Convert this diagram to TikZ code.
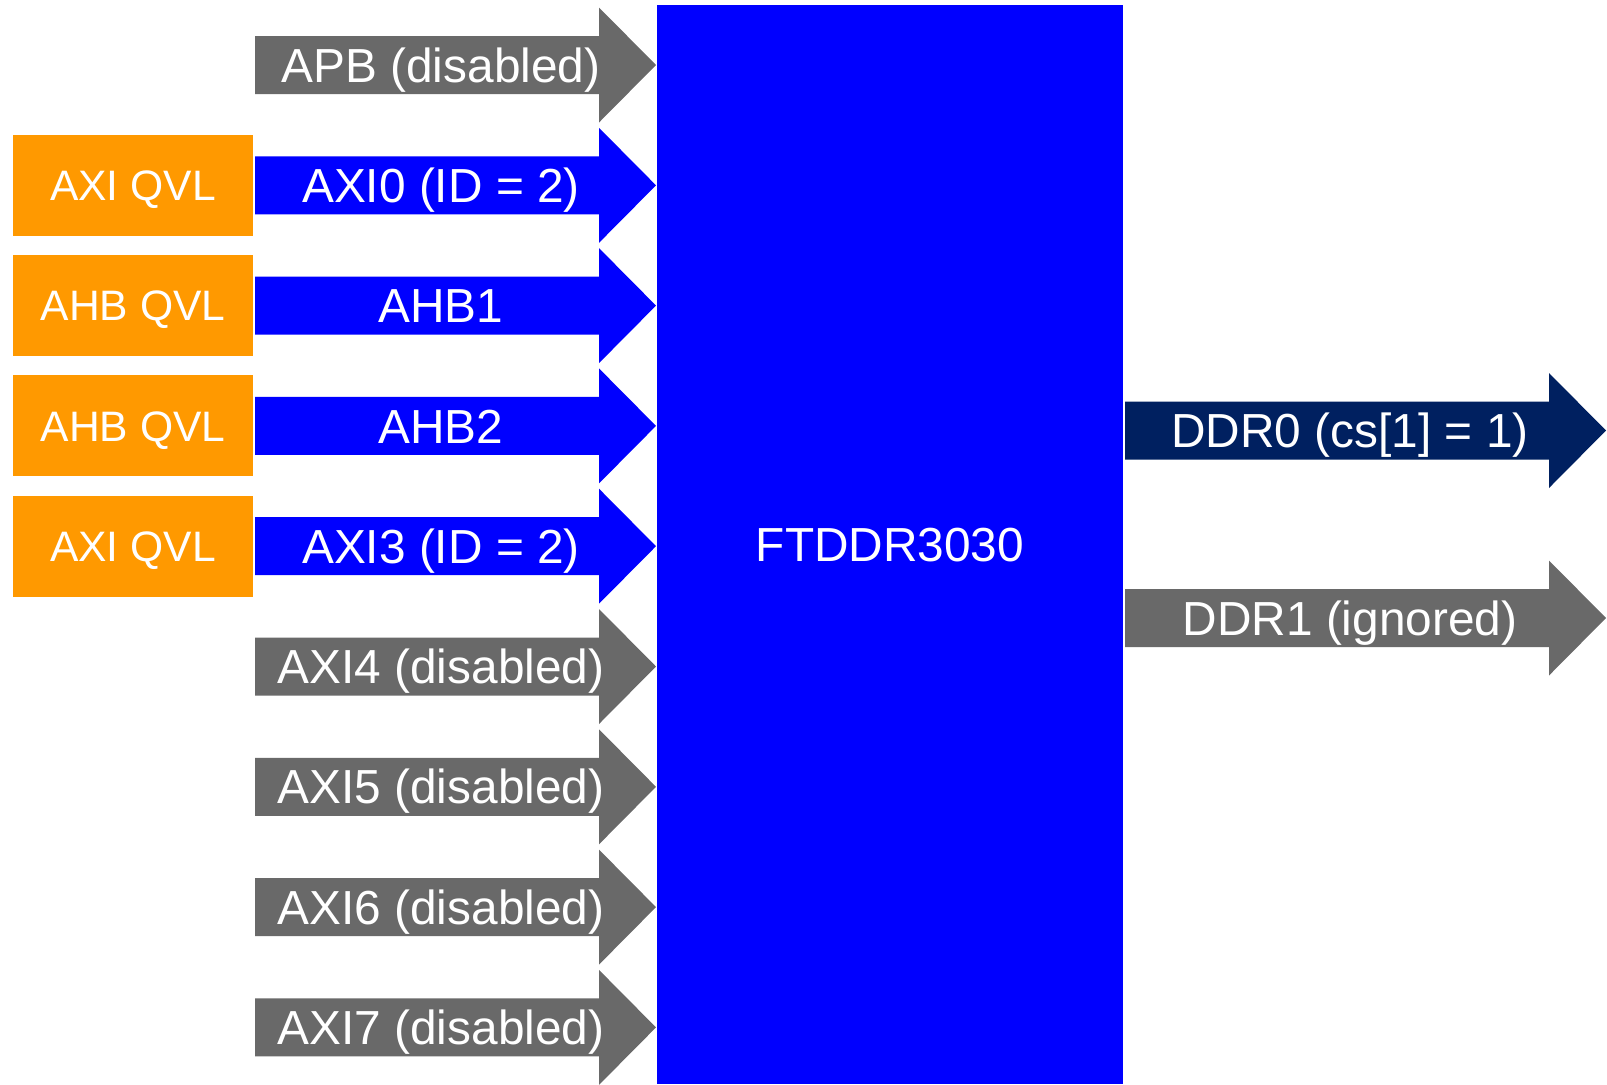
\documentclass[tikz,border=0pt]{standalone}
\usepackage{fontspec}
\setmainfont{Liberation Sans}
\usepackage{xcolor}
\usepackage{tikz}
\definecolor{busgray}{HTML}{696969}
\definecolor{busblue}{HTML}{0000FF}
\definecolor{qvlorange}{HTML}{FF9900}
\definecolor{ddrnavy}{HTML}{002060}

\begin{document}
\begin{tikzpicture}[x=0.5pt, y=-0.5pt,
    pics/busarrow/.style 2 args={code={
        \fill[#1] (0,-29) -- (#2,-29) -- (#2,-57.5) -- ({#2+57},0) -- (#2,57.5) -- (#2,29) -- (0,29) -- cycle;}},
    bustext/.style={text=white, font=\fontsize{23.9}{28}\selectfont, inner sep=0pt, text height=17.1pt, text depth=0pt},
    qvl/.style={fill=qvlorange, text=white, font=\fontsize{21.3}{25}\selectfont, minimum width=120pt, minimum height=50.5pt, inner sep=0pt, text height=15.2pt, text depth=0pt}]
    \useasboundingbox (0,0) rectangle (1607,1084);

    \node[fill=busblue, minimum width=233pt, minimum height=539.5pt, inner sep=0pt, text=white, font=\fontsize{23.9}{28}\selectfont, text height=17.1pt, text depth=0pt] (ftddr) at (890,544.5) {FTDDR3030};

    \pic at (255,65) {busarrow={busgray}{344}};
    \pic at (255,185.3) {busarrow={busblue}{344}};
    \pic at (255,305.6) {busarrow={busblue}{344}};
    \pic at (255,425.9) {busarrow={busblue}{344}};
    \pic at (255,546.2) {busarrow={busblue}{344}};
    \pic at (255,666.5) {busarrow={busgray}{344}};
    \pic at (255,786.8) {busarrow={busgray}{344}};
    \pic at (255,907.1) {busarrow={busgray}{344}};
    \pic at (255,1027.4) {busarrow={busgray}{344}};

    \node[bustext] (apb) at (441,65) {APB (disabled)};
    \node[bustext] (axi0) at (441,185.3) {AXI0 (ID = 2)};
    \node[bustext] (ahb1) at (441,305.6) {AHB1};
    \node[bustext] (ahb2) at (441,425.9) {AHB2};
    \node[bustext] (axi3) at (441,546.2) {AXI3 (ID = 2)};
    \node[bustext] (axi4) at (441,666.5) {AXI4 (disabled)};
    \node[bustext] (axi5) at (441,786.8) {AXI5 (disabled)};
    \node[bustext] (axi6) at (441,907.1) {AXI6 (disabled)};
    \node[bustext] (axi7) at (441,1027.4) {AXI7 (disabled)};

    \node[qvl] (qvl0) at (133,185.3) {AXI QVL};
    \node[qvl] (qvl1) at (133,305.6) {AHB QVL};
    \node[qvl] (qvl2) at (133,425.9) {AHB QVL};
    \node[qvl] (qvl3) at (133,546.2) {AXI QVL};

    \pic at (1125,430.5) {busarrow={ddrnavy}{424}};
    \pic at (1125,618) {busarrow={busgray}{424}};
    \node[bustext] (ddr0) at (1350,430.5) {DDR0 (cs[1] = 1)};
    \node[bustext] (ddr1) at (1350,618) {DDR1 (ignored)};
\end{tikzpicture}
\end{document}
